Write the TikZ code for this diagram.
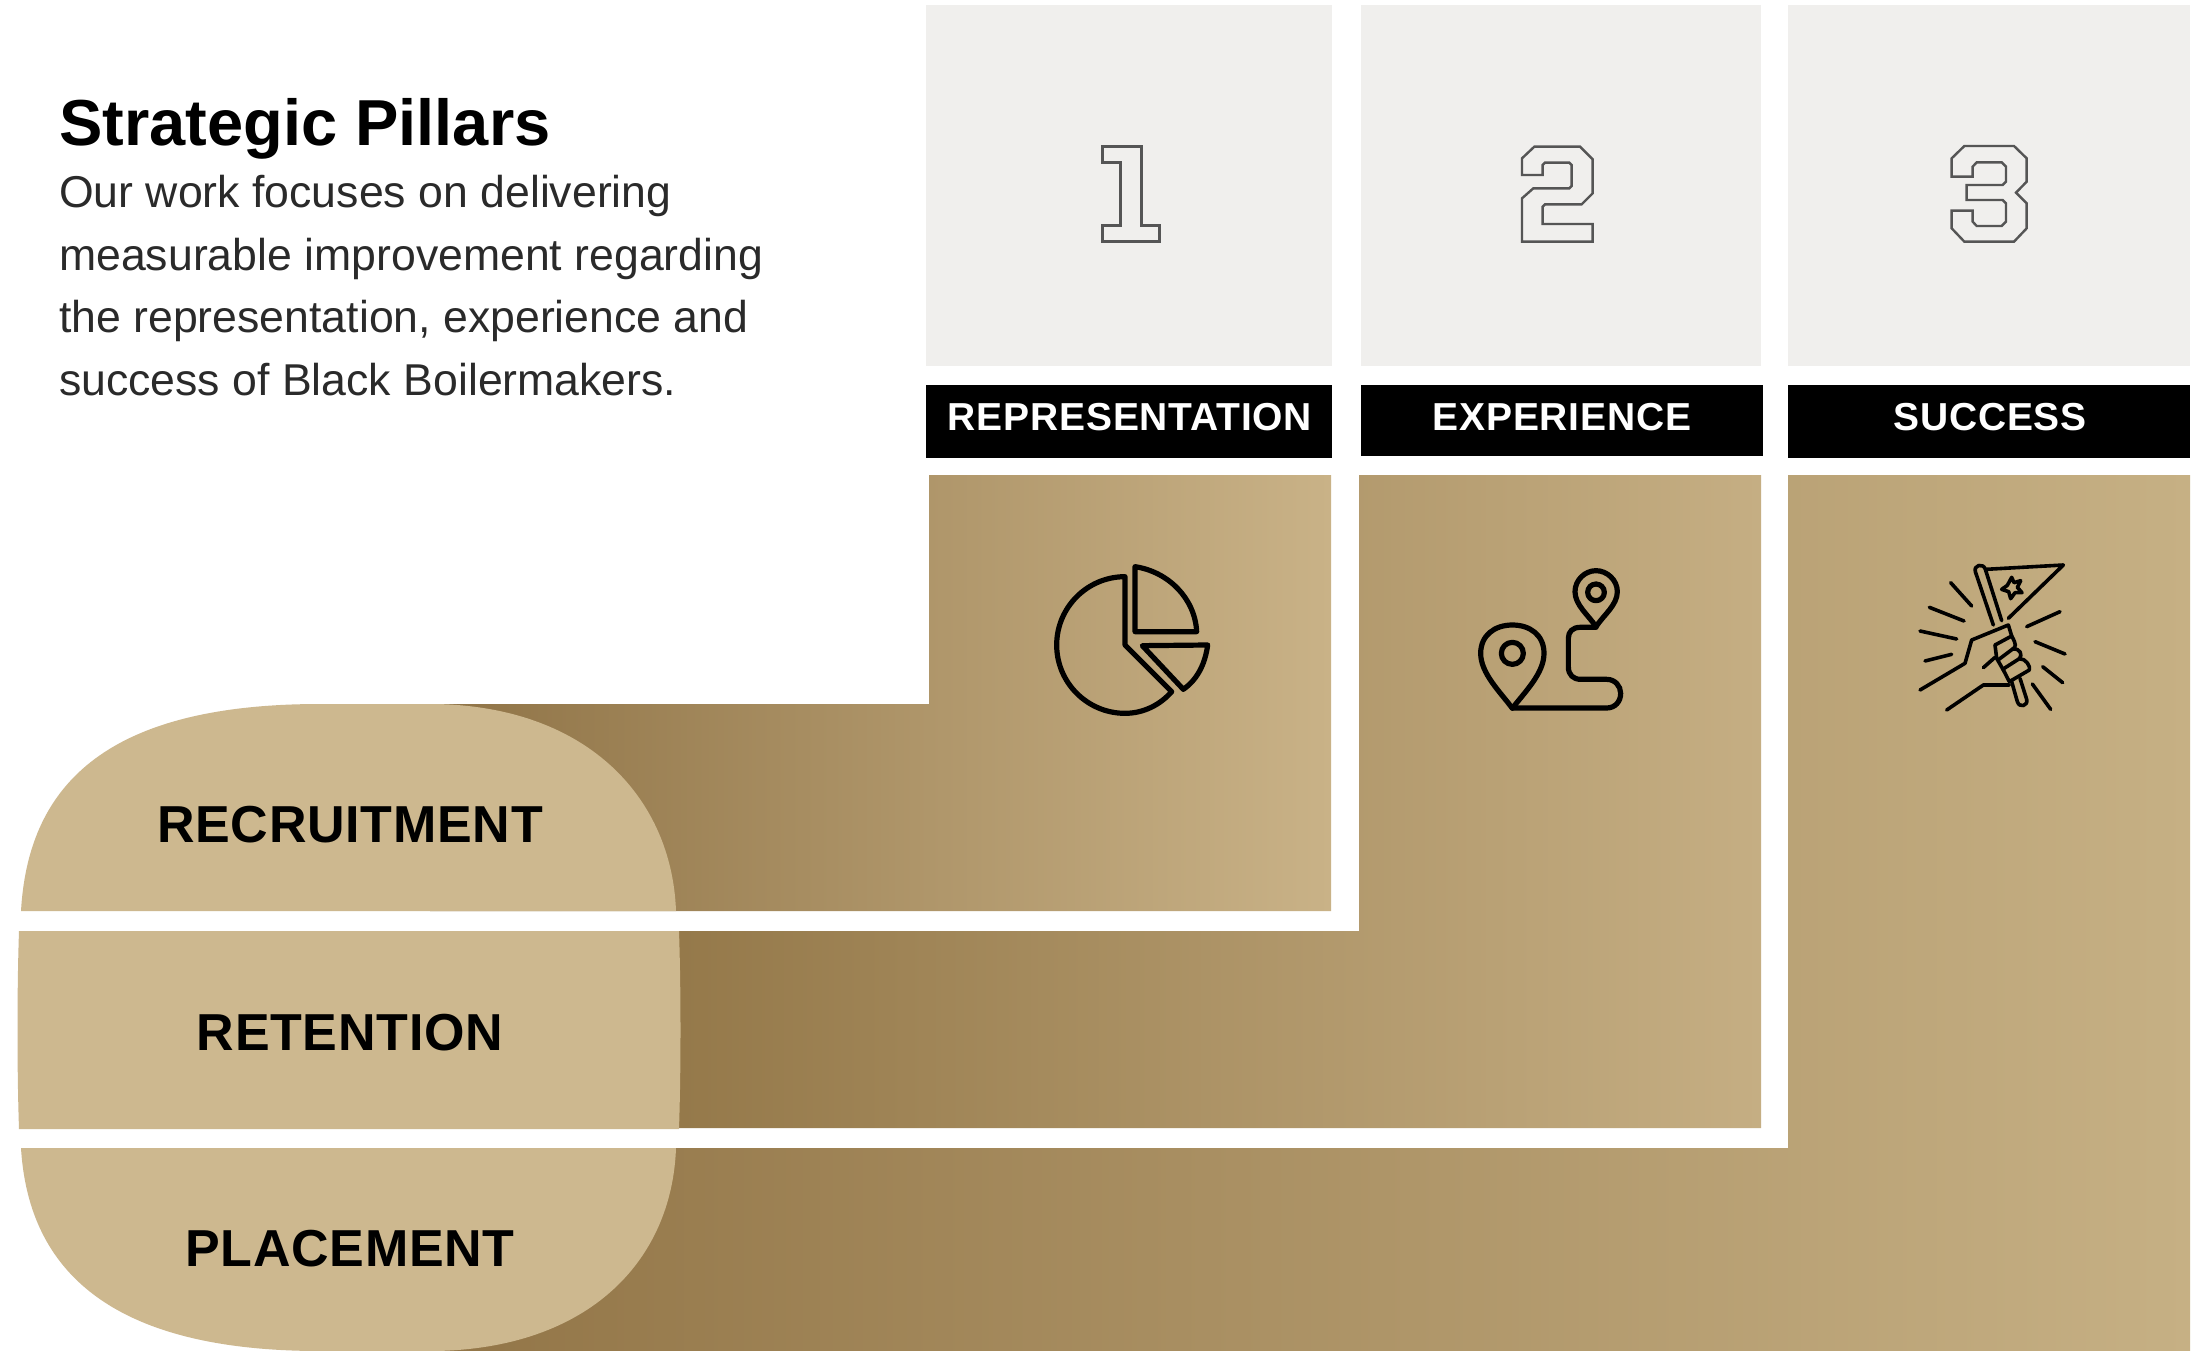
\documentclass[tikz,border=0pt]{standalone}
\usepackage{fontspec}
\setmainfont{Liberation Sans}
\newfontfamily\capsa[LetterSpace=2]{Liberation Sans}
\newfontfamily\capsb[LetterSpace=1.4]{Liberation Sans}
\definecolor{lozenge}{HTML}{CDB88F}
\definecolor{panel}{HTML}{F0EFED}
\definecolor{bodyink}{HTML}{2A2A2A}
\definecolor{digitink}{HTML}{555555}
\definecolor{gA}{HTML}{8F7346}
\definecolor{gB}{HTML}{C9B287}
\definecolor{gC}{HTML}{947849}
\definecolor{gD}{HTML}{C5AE83}
\definecolor{gE}{HTML}{927547}
\definecolor{gF}{HTML}{C6B084}
\tikzset{
  x=1pt,y=-1pt,
  panelbox/.style={fill=panel},
  headbox/.style={fill=black},
  headtext/.style={anchor=base,text=white,inner sep=0pt,font=\fontsize{39}{39}\selectfont\capsa\bfseries},
  rowtext/.style={anchor=base,text=black,inner sep=0pt,font=\fontsize{52}{52}\selectfont\capsb\bfseries},
  digit/.style={draw=digitink,line width=2.4pt,line join=miter},
  icon/.style={draw=black,line width=5.2pt,line join=round,line cap=round},
  thinicon/.style={draw=black,line width=3.6pt,line join=round,line cap=round},
  unit/.style={x=0.33333pt,y=-0.33333pt}
}
\begin{document}
\begin{tikzpicture}
\useasboundingbox (0,0) rectangle (2203,1351);
\fill[white] (0,0) rectangle (2203,1351);
% grey panels
\fill[panelbox] (926,5) rectangle (1332,366);
\fill[panelbox] (1361,5) rectangle (1761,366);
\fill[panelbox] (1788,5) rectangle (2190,366);
% black heads
\fill[headbox] (926,385) rectangle (1332,458);
\fill[headbox] (1361,385) rectangle (1763,456);
\fill[headbox] (1788,385) rectangle (2190,458);
\node[headtext] (h1) at (1130,430) {REPRESENTATION};
\node[headtext] (h2) at (1562,430) {EXPERIENCE};
\node[headtext] (h3) at (1990,430) {SUCCESS};
% stepped gradient bands
\shade[left color=gA,right color=gB] (430,704) -- (929,704) -- (929,475) -- (1331,475) -- (1331,911) -- (430,911) -- cycle;
\shade[left color=gC,right color=gD] (660,931) -- (1359,931) -- (1359,475) -- (1761,475) -- (1761,1128) -- (660,1128) -- cycle;
\shade[left color=gE,right color=gF] (430,1148) -- (1788,1148) -- (1788,475) -- (2190,475) -- (2190,1351) -- (430,1351) -- cycle;
% rounded row ends
\fill[lozenge] (21,911) .. controls (28,790) and (100,704) .. (320,704) -- (436,704) .. controls (590,707) and (672,800) .. (676,911) -- cycle;
\fill[lozenge] (19,931) .. controls (17,990) and (17,1070) .. (19,1129) -- (679,1129) .. controls (681,1070) and (681,990) .. (679,931) -- cycle;
\fill[lozenge] (21,1148) .. controls (28,1262) and (100,1351) .. (320,1351) -- (436,1351) .. controls (590,1348) and (672,1260) .. (676,1148) -- cycle;
\node[rowtext] (r1) at (350,842) {RECRUITMENT};
\node[rowtext] (r2) at (350,1050) {RETENTION};
\node[rowtext] (r3) at (350,1266) {PLACEMENT};
% title and text
\node[anchor=base west,inner sep=0pt,font=\fontsize{65}{65}\selectfont\bfseries] (title) at (59,146) {Strategic Pillars};
\node[anchor=north west,inner sep=0pt,align=left,text=bodyink,font=\fontsize{44.6}{62.7}\selectfont] (body) at (59,175) {Our work focuses on delivering\\measurable improvement regarding\\the representation, experience and\\success of Black Boilermakers.};
% digits
\begin{scope}[shift={(1060,120)},unit]
\draw[digit] (128,80) -- (245,80) -- (245,316) -- (298,316) -- (298,365) -- (128,365) -- (128,316) -- (182,316) -- (182,128) -- (128,128) -- cycle;
\end{scope}
\begin{scope}[shift={(1490,120)},unit]
\draw[digit] (133,80) -- (270,80) -- (308,118) -- (308,220) -- (275,253) -- (165,253) -- (158,260) -- (158,312) -- (308,312) -- (308,365) -- (96,365) -- (96,235) -- (130,205) -- (238,205) -- (245,198) -- (245,135) -- (238,128) -- (165,128) -- (158,135) -- (158,165) -- (96,165) -- (96,115) -- cycle;
\end{scope}
\begin{scope}[shift={(1930,120)},unit]
\draw[digit] (103,78) -- (252,78) -- (290,115) -- (290,185) -- (258,218) -- (290,250) -- (290,325) -- (252,365) -- (103,365) -- (65,325) -- (65,272) -- (128,272) -- (128,305) -- (140,318) -- (215,318) -- (228,305) -- (228,250) -- (218,240) -- (110,240) -- (110,195) -- (218,195) -- (228,185) -- (228,140) -- (215,127) -- (140,127) -- (128,140) -- (128,170) -- (65,170) -- (65,115) -- cycle;
\end{scope}
% pie icon
\begin{scope}[shift={(1020,540)},unit]
\draw[icon] (315,315) -- (315,110) .. controls (202,110) and (110,202) .. (110,315) .. controls (110,428) and (202,520) .. (315,520) .. controls (370,520) and (420,495) .. (455,455) -- cycle;
\draw[icon] (345,80) -- (345,275) -- (530,275) .. controls (525,175) and (445,95) .. (345,80) -- cycle;
\draw[icon] (367,317) -- (563,315) .. controls (555,375) and (530,420) .. (490,448) -- cycle;
\end{scope}
% route icon
\begin{scope}[shift={(1460,550)},unit]
\draw[icon] (157,475) .. controls (120,425) and (62,370) .. (62,310) .. controls (62,255) and (105,225) .. (157,225) .. controls (210,225) and (252,255) .. (252,310) .. controls (252,370) and (195,425) .. (157,475) -- cycle;
\draw[icon] (157,310) circle [radius=33];
\draw[icon] (408,230) .. controls (385,195) and (345,165) .. (345,125) .. controls (345,90) and (375,62) .. (408,62) .. controls (441,62) and (472,90) .. (472,125) .. controls (472,165) and (431,195) .. (408,230) -- cycle;
\draw[icon] (408,127) circle [radius=25];
\draw[icon] (408,232) -- (360,232) .. controls (338,232) and (325,245) .. (325,265) -- (325,350) .. controls (325,375) and (340,388) .. (362,388) -- (440,388) .. controls (465,388) and (482,408) .. (482,430) .. controls (482,455) and (465,474) .. (440,474) -- (157,474);
\end{scope}
% flag icon
\begin{scope}[shift={(1900,550)},unit]
\draw[thinicon] (280,225) -- (226,65) .. controls (220,45) and (250,38) .. (256,58) -- (305,212);
\draw[thinicon] (258,58) -- (490,45) -- (325,205);
\draw[thinicon] (335,82) -- (342,98) -- (362,92) -- (352,112) -- (366,128) -- (345,128) -- (332,146) -- (326,125) -- (305,118) -- (322,106) -- cycle;
\draw[thinicon] (152,98) -- (215,168);
\draw[thinicon] (88,172) -- (192,213);
\draw[thinicon] (60,243) -- (170,267);
\draw[thinicon] (75,333) -- (155,313);
\draw[thinicon] (380,230) -- (480,185);
\draw[thinicon] (405,275) -- (495,312);
\draw[thinicon] (428,350) -- (488,398);
\draw[thinicon] (397,402) -- (452,478);
\draw[thinicon] (60,420) -- (195,340) -- (215,270) -- (325,225) -- (335,258);
\draw[thinicon] (335,258) .. controls (350,285) and (348,290) .. (338,297) .. controls (362,295) and (368,315) .. (358,326) .. controls (378,325) and (392,350) .. (388,360) -- (328,395) -- (310,360) -- (290,325) -- (285,285) -- (335,258);
\draw[thinicon] (294,330) -- (338,297);
\draw[thinicon] (308,358) -- (358,326);
\draw[thinicon] (250,353) -- (285,322);
\draw[thinicon] (140,480) -- (250,405) -- (328,405);
\draw[thinicon] (335,395) -- (352,455) .. controls (358,475) and (385,468) .. (380,448) -- (360,385);
\end{scope}
\end{tikzpicture}
\end{document}
